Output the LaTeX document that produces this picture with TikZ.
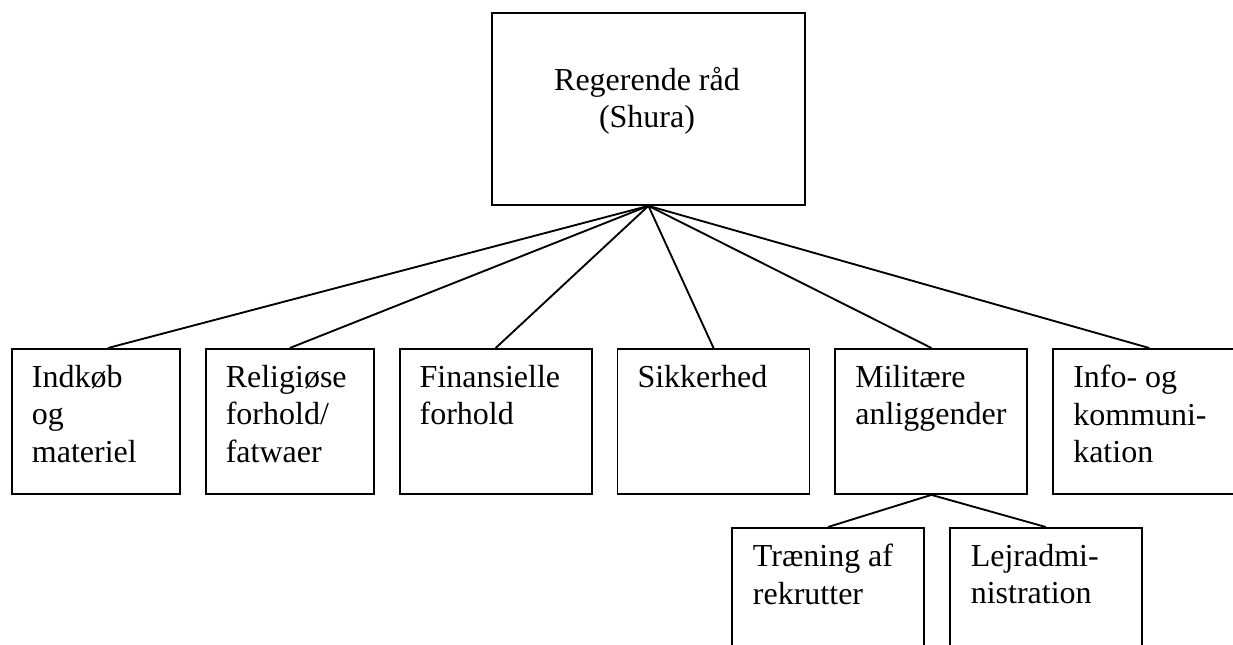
\documentclass[tikz,border=0pt]{standalone}
\usepackage{fontspec}
\setmainfont{Liberation Serif}
\usepackage{tikz}
\usetikzlibrary{positioning}

\begin{document}
\begin{tikzpicture}[x = 0.75pt, y = -0.75pt, line width = 1.4pt]
	\tikzstyle{boks} = [rectangle, draw = black, anchor = north west, inner sep = 0pt, minimum width = 144pt, minimum height = 108.75pt]
	\tikzstyle{tekst} = [anchor = north west, align = left, inner sep = 0pt, font = \fontsize{24}{28.2}\selectfont]
\clip (0,0) rectangle (1233,644);
\node[boks, minimum width = 234.75pt, minimum height = 144pt] (shura) at (491,12) {};
\node[boks, minimum width = 126pt] (indkob) at (11,348) {};
\node[boks, minimum width = 126pt, right = 18pt of indkob] (relig) {};
\node[boks, right = 18pt of relig] (finans) {};
\node[boks, right = 18pt of finans] (sikker) {};
\node[boks, right = 18pt of sikker] (milit) {};
\node[boks, right = 18pt of milit] (info) {};
\node[boks] (traen) at (731,527) {};
\node[boks, right = 18pt of traen] (lejr) {};
% tekster
\node[tekst, anchor = north, align = center] (tshura) at (647,66) {Regerende råd\\(Shura)};
\node[tekst] (tindkob) at ([shift = {(20,16)}]indkob.north west) {Indkøb\\og\\materiel};
\node[tekst] (trelig) at ([shift = {(20,16)}]relig.north west) {Religiøse\\forhold/\\fatwaer};
\node[tekst] (tfinans) at ([shift = {(20,16)}]finans.north west) {Finansielle\\forhold};
\node[tekst] (tsikker) at ([shift = {(20,16)}]sikker.north west) {Sikkerhed};
\node[tekst] (tmilit) at ([shift = {(20,16)}]milit.north west) {Militære\\anliggender};
\node[tekst] (tinfo) at ([shift = {(20,16)}]info.north west) {Info- og\\kommuni-\\kation};
\node[tekst] (ttraen) at ([shift = {(21,16)}]traen.north west) {Træning af\\rekrutter};
\node[tekst] (tlejr) at ([shift = {(21,16)}]lejr.north west) {Lejradmi-\\nistration};
	\path[draw] (shura.south) -- ([xshift = 9pt]indkob.north);
	\path[draw] (shura.south) -- (relig.north);
	\path[draw] (shura.south) -- (finans.north);
	\path[draw] (shura.south) -- (sikker.north);
	\path[draw] (shura.south) -- (milit.north);
	\path[draw] (shura.south) -- (info.north);
	\path[draw] (milit.south) -- (traen.north);
	\path[draw] (milit.south) -- (lejr.north);
\end{tikzpicture}
\end{document}
